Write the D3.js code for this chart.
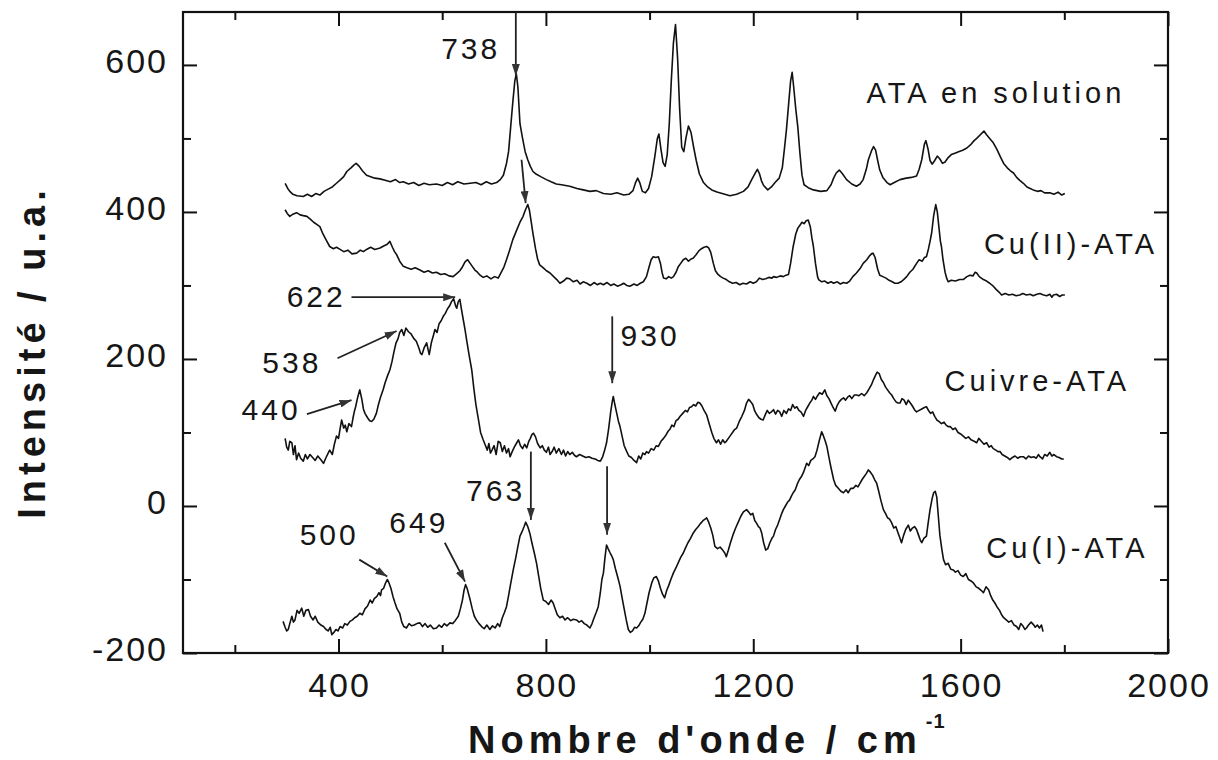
<!DOCTYPE html>
<html>
<head>
<meta charset="utf-8">
<script src="https://cdn.jsdelivr.net/npm/d3@7"></script>
<style>
  body { margin: 0; background: #fff; }
  text { font-family: "Liberation Sans", Arial, sans-serif; fill: #161616; }
</style>
</head>
<body>
<div id="chart"></div>
<script>
// Raman spectra: [wavenumber, intensity]
var ataSolution = [[297,439],[302,432],[306,428],[312,424],[320,422],[332,421],[340,424],[348,421],[356,425],[364,423],[372,428],[380,431],[388,434],[396,439],[404,444],[410,448],[416,455],[424,460],[430,464],[434,466],[440,462],[446,456],[454,450],[462,448],[470,446],[480,445],[490,443],[500,441],[510,444],[518,440],[525,441],[535,438],[545,440],[555,436],[565,439],[575,437],[589,438],[600,436],[610,440],[620,437],[630,441],[642,438],[654,439],[665,440],[675,437],[685,441],[695,438],[705,440],[712,444],[718,450],[724,466],[728,482],[732,515],[736,548],[740,578],[743,588],[746,570],[750,520],[755,500],[760,482],[765,471],[770,462],[775,455],[780,452],[790,448],[801,444],[810,441],[820,438],[830,437],[846,435],[860,432],[872,430],[885,428],[897,429],[911,425],[925,424],[937,426],[950,423],[960,424],[968,429],[973,440],[977,446],[981,440],[986,428],[992,426],[998,432],[1004,448],[1010,475],[1015,500],[1018,506],[1022,485],[1026,467],[1030,462],[1034,478],[1038,520],[1042,580],[1046,630],[1050,655],[1054,610],[1058,540],[1062,488],[1066,482],[1070,500],[1075,517],[1080,508],[1085,488],[1090,470],[1096,452],[1104,440],[1112,434],[1120,430],[1130,427],[1140,425],[1155,422],[1168,424],[1181,428],[1190,434],[1197,444],[1204,453],[1208,458],[1212,452],[1216,442],[1220,436],[1228,430],[1235,434],[1242,440],[1250,446],[1256,460],[1260,485],[1264,512],[1268,545],[1272,578],[1275,590],[1278,570],[1282,540],[1286,515],[1290,480],[1294,450],[1298,437],[1306,433],[1316,430],[1330,428],[1342,429],[1350,437],[1355,446],[1360,453],[1366,457],[1372,452],[1380,444],[1390,438],[1399,435],[1406,438],[1412,444],[1418,458],[1422,471],[1428,483],[1432,489],[1436,484],[1440,470],[1444,457],[1450,447],[1458,440],[1464,437],[1472,440],[1483,444],[1495,446],[1505,447],[1515,449],[1520,458],[1525,471],[1530,492],[1533,497],[1537,486],[1541,470],[1545,465],[1550,470],[1555,476],[1560,472],[1565,466],[1570,468],[1576,474],[1582,478],[1589,480],[1596,482],[1604,484],[1612,487],[1620,492],[1626,497],[1631,500],[1638,505],[1645,510],[1650,505],[1656,500],[1663,494],[1670,485],[1676,476],[1683,466],[1690,460],[1696,456],[1702,453],[1708,447],[1714,443],[1721,439],[1728,434],[1734,432],[1740,430],[1748,428],[1755,429],[1762,426],[1772,426],[1780,424],[1788,427],[1795,423],[1801,425]];

var cu2Ata = [[297,403],[301,398],[306,394],[312,397],[319,399],[326,396],[332,395],[339,394],[346,390],[352,386],[358,383],[364,380],[370,370],[376,362],[383,353],[390,350],[396,352],[403,349],[410,346],[418,348],[426,343],[435,344],[442,348],[448,346],[454,349],[462,352],[470,349],[480,351],[488,354],[494,356],[499,360],[504,352],[508,346],[512,342],[518,333],[525,326],[532,324],[540,322],[548,324],[557,321],[565,318],[573,320],[581,317],[589,318],[597,315],[605,316],[613,313],[621,312],[628,316],[634,320],[638,324],[644,332],[649,335],[654,330],[658,326],[663,321],[668,318],[673,314],[679,311],[686,313],[694,309],[701,312],[708,310],[714,318],[719,325],[724,335],[730,348],[736,362],[744,376],[750,386],[756,394],[760,402],[765,410],[768,403],[772,385],[775,371],[780,350],[784,336],[788,328],[795,324],[801,320],[808,317],[815,312],[821,308],[827,303],[834,306],[840,310],[846,309],[853,305],[860,307],[866,302],[872,305],[879,303],[886,300],[893,304],[899,301],[905,303],[911,301],[918,304],[925,300],[931,302],[938,299],[945,301],[950,303],[956,300],[962,299],[970,302],[976,300],[982,303],[988,305],[994,312],[999,325],[1003,335],[1007,339],[1012,338],[1017,339],[1021,330],[1024,318],[1027,310],[1032,309],[1037,312],[1042,310],[1046,312],[1051,318],[1055,325],[1060,330],[1065,335],[1070,337],[1075,333],[1080,336],[1084,337],[1090,342],[1095,347],[1100,350],[1105,352],[1110,353],[1114,351],[1118,345],[1123,330],[1127,320],[1132,315],[1137,312],[1142,310],[1148,308],[1154,305],[1160,303],[1167,304],[1174,301],[1180,303],[1187,302],[1194,305],[1200,303],[1206,305],[1212,310],[1218,308],[1224,309],[1230,311],[1236,310],[1239,312],[1245,311],[1252,313],[1258,312],[1263,314],[1268,315],[1272,330],[1277,353],[1282,370],[1286,378],[1290,382],[1294,386],[1298,384],[1302,388],[1306,389],[1310,380],[1313,365],[1316,353],[1320,330],[1324,312],[1326,308],[1332,305],[1338,306],[1344,303],[1350,305],[1355,303],[1362,305],[1368,302],[1374,304],[1380,303],[1386,306],[1392,312],[1399,317],[1406,323],[1412,330],[1419,335],[1424,340],[1428,343],[1431,344],[1435,338],[1440,322],[1444,314],[1450,312],[1456,310],[1462,307],[1468,305],[1473,303],[1479,303],[1485,305],[1490,308],[1496,312],[1502,318],[1508,322],[1515,330],[1520,335],[1526,333],[1530,338],[1534,339],[1538,350],[1541,360],[1544,371],[1548,395],[1552,410],[1555,400],[1558,380],[1561,360],[1563,353],[1566,335],[1570,318],[1573,310],[1576,305],[1582,307],[1590,306],[1598,308],[1605,308],[1612,312],[1618,314],[1624,313],[1628,318],[1631,317],[1636,312],[1640,310],[1644,308],[1650,306],[1656,303],[1663,299],[1668,295],[1674,291],[1679,287],[1686,289],[1693,287],[1700,288],[1707,286],[1714,287],[1720,289],[1727,287],[1734,288],[1740,286],[1747,288],[1753,289],[1760,287],[1766,286],[1772,288],[1776,284],[1779,287],[1785,288],[1791,285],[1796,287],[1801,287]];

var cuivreAta = [[297,92],[300,80],[303,76],[306,88],[310,86],[313,70],[316,82],[319,63],[323,72],[327,65],[332,61],[336,70],[340,64],[345,70],[350,66],[355,62],[360,68],[366,63],[371,58],[376,66],[380,72],[383,76],[388,70],[392,84],[396,95],[400,92],[403,105],[406,117],[410,106],[413,110],[416,101],[420,112],[425,108],[428,120],[431,130],[433,135],[437,148],[441,158],[445,145],[448,132],[451,126],[456,120],[460,116],[464,115],[468,118],[473,126],[477,138],[481,148],[486,158],[490,168],[495,178],[499,185],[503,196],[507,210],[511,222],[515,228],[518,236],[522,240],[526,232],[530,242],[535,237],[540,234],[545,228],[550,224],[555,215],[558,208],[561,206],[565,215],[570,222],[573,212],[575,206],[579,222],[583,232],[586,240],[590,236],[594,248],[598,252],[602,258],[606,262],[610,268],[614,272],[618,278],[622,282],[626,272],[628,269],[631,278],[634,281],[637,268],[641,252],[644,240],[648,222],[652,205],[657,185],[661,160],[665,138],[670,117],[674,100],[679,90],[683,83],[687,76],[690,85],[693,72],[696,76],[700,82],[704,70],[708,88],[712,86],[716,74],[720,82],[724,72],[728,78],[731,67],[735,74],[739,80],[743,85],[747,90],[751,82],[755,78],[759,84],[763,79],[767,88],[770,92],[773,97],[776,99],[780,94],[784,85],[789,79],[793,82],[797,76],[801,73],[805,80],[808,70],[812,74],[816,80],[820,72],[825,78],[830,70],[834,76],[838,68],[842,74],[846,70],[851,73],[855,69],[859,67],[865,70],[871,68],[877,66],[883,67],[889,65],[895,64],[900,62],[905,61],[909,66],[913,75],[917,86],[921,105],[925,128],[928,142],[930,149],[933,138],[937,125],[940,115],[943,108],[947,95],[951,82],[956,74],[960,68],[965,66],[970,62],[975,59],[979,68],[983,64],[987,72],[991,70],[994,74],[998,72],[1003,78],[1008,76],[1013,82],[1017,81],[1022,88],[1027,92],[1032,97],[1036,102],[1039,104],[1043,110],[1047,108],[1051,116],[1055,118],[1059,122],[1064,126],[1069,130],[1073,128],[1077,134],[1081,135],[1085,138],[1089,136],[1093,141],[1097,140],[1101,136],[1105,130],[1110,124],[1115,112],[1120,100],[1124,92],[1129,86],[1133,90],[1137,84],[1141,90],[1145,86],[1148,88],[1152,92],[1156,96],[1160,100],[1164,104],[1168,106],[1173,115],[1178,122],[1183,130],[1187,140],[1191,145],[1195,142],[1199,138],[1203,129],[1207,124],[1211,120],[1215,118],[1219,117],[1223,124],[1227,130],[1231,126],[1235,128],[1239,131],[1243,125],[1247,130],[1251,128],[1255,122],[1259,130],[1264,126],[1268,132],[1272,130],[1276,138],[1280,133],[1284,135],[1288,130],[1292,128],[1297,122],[1301,130],[1305,135],[1309,140],[1313,144],[1316,149],[1320,145],[1324,150],[1328,154],[1333,152],[1338,158],[1342,150],[1346,146],[1350,140],[1354,134],[1358,129],[1362,137],[1366,142],[1370,145],[1374,147],[1378,144],[1382,148],[1386,150],[1390,146],[1395,151],[1399,151],[1404,150],[1409,153],[1414,150],[1419,154],[1424,160],[1428,165],[1432,172],[1436,178],[1439,182],[1443,180],[1447,172],[1451,168],[1455,162],[1459,158],[1463,154],[1467,151],[1471,146],[1475,142],[1479,140],[1483,140],[1487,146],[1491,144],[1495,138],[1499,144],[1503,140],[1507,136],[1511,131],[1515,128],[1520,130],[1525,132],[1530,134],[1534,135],[1538,130],[1542,126],[1546,128],[1550,122],[1554,117],[1558,115],[1563,112],[1568,114],[1572,110],[1576,108],[1580,108],[1585,104],[1590,106],[1595,100],[1600,98],[1605,95],[1610,92],[1615,94],[1620,90],[1626,88],[1631,86],[1635,92],[1640,88],[1645,84],[1650,86],[1655,80],[1659,82],[1663,78],[1668,76],[1672,74],[1676,74],[1680,70],[1685,68],[1690,66],[1695,63],[1700,66],[1705,68],[1710,65],[1715,67],[1721,67],[1726,64],[1731,68],[1736,66],[1741,67],[1746,65],[1750,70],[1753,67],[1758,64],[1762,70],[1767,68],[1772,73],[1776,68],[1780,70],[1785,67],[1790,66],[1795,64],[1799,64]];

var cu1Ata = [[293,-157],[297,-165],[300,-170],[303,-168],[306,-160],[310,-150],[313,-158],[316,-155],[320,-142],[324,-146],[329,-139],[333,-150],[337,-142],[342,-141],[346,-150],[351,-155],[355,-150],[360,-158],[366,-162],[371,-164],[376,-168],[380,-170],[384,-165],[387,-175],[391,-172],[395,-168],[399,-170],[403,-164],[408,-166],[412,-160],[417,-162],[422,-157],[427,-155],[431,-152],[436,-150],[441,-146],[446,-148],[451,-140],[456,-136],[461,-128],[465,-132],[469,-126],[474,-123],[478,-118],[481,-122],[483,-114],[487,-112],[490,-106],[494,-100],[497,-104],[501,-112],[505,-123],[509,-132],[513,-140],[518,-146],[522,-158],[526,-164],[531,-166],[536,-160],[541,-163],[546,-162],[551,-160],[557,-159],[562,-164],[567,-160],[572,-165],[577,-162],[583,-167],[589,-166],[594,-162],[599,-165],[604,-160],[609,-163],[615,-159],[620,-160],[625,-156],[631,-150],[635,-140],[639,-128],[642,-115],[645,-107],[648,-112],[651,-120],[654,-128],[658,-140],[662,-150],[666,-155],[671,-160],[676,-164],[681,-167],[686,-162],[692,-168],[697,-163],[702,-166],[707,-160],[711,-164],[716,-152],[720,-145],[724,-137],[728,-122],[732,-106],[737,-87],[742,-70],[746,-55],[750,-41],[754,-35],[758,-28],[761,-22],[765,-28],[769,-37],[773,-50],[778,-65],[782,-78],[786,-95],[790,-112],[795,-128],[800,-130],[805,-134],[810,-128],[814,-132],[818,-140],[822,-148],[827,-152],[832,-150],[837,-155],[842,-152],[848,-156],[853,-154],[859,-155],[864,-158],[869,-156],[874,-160],[879,-162],[885,-166],[889,-160],[893,-152],[897,-145],[901,-137],[905,-118],[908,-100],[911,-91],[914,-70],[917,-53],[920,-58],[924,-64],[927,-68],[930,-73],[934,-85],[939,-98],[943,-109],[947,-125],[951,-140],[955,-155],[959,-168],[963,-172],[967,-170],[971,-165],[975,-166],[979,-163],[983,-158],[987,-154],[991,-146],[995,-132],[999,-118],[1004,-105],[1008,-98],[1013,-96],[1017,-102],[1021,-112],[1025,-120],[1029,-125],[1033,-115],[1037,-108],[1041,-100],[1046,-91],[1051,-84],[1056,-76],[1060,-70],[1065,-64],[1070,-56],[1074,-50],[1079,-44],[1084,-37],[1089,-32],[1094,-28],[1098,-24],[1103,-20],[1107,-18],[1110,-16],[1114,-22],[1118,-30],[1122,-40],[1126,-55],[1131,-58],[1136,-56],[1141,-60],[1145,-64],[1148,-69],[1152,-60],[1156,-50],[1161,-39],[1166,-30],[1171,-22],[1176,-14],[1181,-8],[1187,-5],[1191,-8],[1195,-12],[1199,-10],[1203,-20],[1206,-23],[1210,-28],[1213,-30],[1216,-36],[1220,-50],[1224,-60],[1228,-58],[1232,-50],[1236,-44],[1239,-41],[1243,-32],[1247,-26],[1251,-18],[1255,-10],[1258,-5],[1262,0],[1266,5],[1270,8],[1274,14],[1277,18],[1281,22],[1285,30],[1289,36],[1293,40],[1297,46],[1300,52],[1303,58],[1307,55],[1311,62],[1315,64],[1319,67],[1323,76],[1327,88],[1330,96],[1332,101],[1335,96],[1339,88],[1342,81],[1346,66],[1350,52],[1355,36],[1359,28],[1364,24],[1369,20],[1374,18],[1379,22],[1383,18],[1388,24],[1393,24],[1398,28],[1402,26],[1406,31],[1410,36],[1414,40],[1418,44],[1422,49],[1426,46],[1430,42],[1434,36],[1438,31],[1442,20],[1446,8],[1451,-5],[1455,-10],[1459,-16],[1463,-18],[1467,-23],[1471,-30],[1475,-28],[1479,-36],[1483,-44],[1486,-50],[1490,-40],[1494,-32],[1499,-26],[1503,-34],[1507,-30],[1511,-28],[1515,-32],[1519,-40],[1522,-46],[1525,-50],[1529,-44],[1534,-41],[1537,-25],[1541,-5],[1545,10],[1548,18],[1551,20],[1554,12],[1557,-14],[1560,-40],[1564,-60],[1567,-73],[1571,-80],[1576,-78],[1581,-86],[1586,-87],[1590,-90],[1595,-88],[1600,-94],[1605,-96],[1610,-92],[1615,-100],[1620,-102],[1625,-105],[1630,-110],[1635,-112],[1640,-115],[1644,-118],[1649,-110],[1654,-114],[1658,-122],[1662,-128],[1666,-132],[1670,-137],[1675,-142],[1679,-148],[1683,-152],[1688,-155],[1693,-158],[1698,-156],[1703,-162],[1708,-164],[1712,-168],[1716,-160],[1720,-163],[1724,-168],[1727,-166],[1731,-162],[1736,-158],[1740,-161],[1744,-165],[1748,-162],[1752,-166],[1756,-162],[1759,-171]];

var spectra = [ataSolution, cu2Ata, cuivreAta, cu1Ata];

// series names placed next to each curve [text, wavenumber, intensity]
var seriesLabels = [["ATA en solution", 1668, 563], ["Cu(II)-ATA", 1813, 357], ["Cuivre-ATA", 1748, 170], ["Cu(I)-ATA", 1806, -57]];

// peak annotations: [text, textX, textY] and arrows [x1, y1, x2, y2]
var peakLabels = [["738", 655, 623], ["622", 357, 285], ["538", 310, 196], ["440", 270, 131], ["930", 1001, 233], ["763", 703, 21], ["500", 382, -38], ["649", 555, -22]];
var peakArrows = [[742, 672, 742, 585], [753, 471, 761, 412], [425, 284, 625, 284], [398, 201, 512, 238], [339, 125, 425, 144], [928, 258, 928, 167], [771, 74, 771, -19], [918, 54, 918, -39], [440, -73, 494, -96], [605, -50, 644, -103]];

var xMajor = [400, 800, 1200, 1600, 2000];
var xMinor = [200, 600, 1000, 1400, 1800];
var yMajor = [-200, 0, 200, 400, 600];
var yMinor = [-100, 100, 300, 500];

var svgWidth = 1218, svgHeight = 760;
var plotLeft = 183, plotRight = 1168, plotTop = 12, plotBottom = 653;

var svg = d3.select("#chart")
    .append("svg")
    .attr("width", svgWidth)
    .attr("height", svgHeight);

svg.append("rect").attr("width", svgWidth).attr("height", svgHeight).attr("fill", "#fff");

var x = d3.scaleLinear().domain([100, 2000]).range([plotLeft, plotRight]);
var y = d3.scaleLinear().domain([-200, 672]).range([plotBottom, plotTop]);

// arrow head
svg.append("defs").append("marker")
    .attr("id", "head")
    .attr("markerUnits", "userSpaceOnUse")
    .attr("viewBox", "0 0 12 8")
    .attr("refX", 12).attr("refY", 4)
    .attr("markerWidth", 12).attr("markerHeight", 8)
    .attr("orient", "auto")
    .append("path")
    .attr("d", "M0,0 L12,4 L0,8 Z")
    .attr("fill", "#333");

// ticks, all pointing inward
function ticks(axis, vals, size, tr) {
    var g = svg.append("g").attr("transform", tr)
        .call(axis.tickValues(vals).tickSize(size).tickFormat(""));
    g.select(".domain").remove();
    g.selectAll("line").attr("stroke", "#111").attr("stroke-width", 2);
}
ticks(d3.axisBottom(x), xMajor, -14, "translate(0," + plotBottom + ")");
ticks(d3.axisBottom(x), xMinor, -8, "translate(0," + plotBottom + ")");
ticks(d3.axisTop(x), xMajor, -14, "translate(0," + plotTop + ")");
ticks(d3.axisTop(x), xMinor, -8, "translate(0," + plotTop + ")");
ticks(d3.axisLeft(y), yMajor, -14, "translate(" + plotLeft + ",0)");
ticks(d3.axisLeft(y), yMinor, -8, "translate(" + plotLeft + ",0)");
ticks(d3.axisRight(y), yMajor, -14, "translate(" + plotRight + ",0)");
ticks(d3.axisRight(y), yMinor, -8, "translate(" + plotRight + ",0)");

// frame
svg.append("rect")
    .attr("x", plotLeft).attr("y", plotTop)
    .attr("width", plotRight - plotLeft).attr("height", plotBottom - plotTop)
    .attr("fill", "none").attr("stroke", "#111").attr("stroke-width", 2.2);

// tick labels
svg.selectAll(".xlab").data(xMajor).enter().append("text")
    .attr("x", function(d) { return x(d) + 1; })
    .attr("y", 697)
    .attr("text-anchor", "middle")
    .style("font-size", "34px").style("letter-spacing", "2px")
    .text(function(d) { return d; });

svg.selectAll(".ylab").data(yMajor).enter().append("text")
    .attr("x", 168)
    .attr("y", function(d) { return y(d) + 8; })
    .attr("text-anchor", "end")
    .style("font-size", "34px").style("letter-spacing", "2px")
    .text(function(d) { return d; });

// spectra
var line = d3.line().x(function(d) { return x(d[0]); }).y(function(d) { return y(d[1]); });
svg.selectAll(".spec").data(spectra).enter().append("path")
    .attr("d", line)
    .attr("fill", "none")
    .attr("stroke", "#111")
    .attr("stroke-width", 1.6)
    .attr("stroke-linejoin", "round");

// arrows
svg.selectAll(".arrow").data(peakArrows).enter().append("line")
    .attr("x1", function(d) { return x(d[0]); })
    .attr("y1", function(d) { return y(d[1]); })
    .attr("x2", function(d) { return x(d[2]); })
    .attr("y2", function(d) { return y(d[3]); })
    .attr("stroke", "#222").attr("stroke-width", 1.8)
    .attr("marker-end", "url(#head)");

svg.selectAll(".peak").data(peakLabels).enter().append("text")
    .attr("x", function(d) { return x(d[1]); })
    .attr("y", function(d) { return y(d[2]); })
    .attr("dy", "0.36em")
    .attr("text-anchor", "middle")
    .style("font-size", "30px").style("letter-spacing", "3px")
    .text(function(d) { return d[0]; });

svg.selectAll(".series").data(seriesLabels).enter().append("text")
    .attr("x", function(d) { return x(d[1]); })
    .attr("y", function(d) { return y(d[2]); })
    .attr("dy", "0.36em")
    .attr("text-anchor", "middle")
    .style("font-size", "29px").style("letter-spacing", "4px")
    .text(function(d) { return d[0]; });

// axis titles
var xt = svg.append("text")
    .attr("x", 468).attr("y", 753)
    .style("font-size", "38px").style("font-weight", "bold").style("letter-spacing", "5px")
    .text("Nombre d'onde / cm");
xt.append("tspan")
    .attr("dx", 4).attr("dy", -25)
    .style("font-size", "20px").style("letter-spacing", "1px")
    .text("-1");

svg.append("text")
    .attr("transform", "translate(45,352) rotate(-90)")
    .attr("text-anchor", "middle")
    .style("font-size", "38px").style("font-weight", "bold").style("letter-spacing", "5px")
    .text("Intensité / u.a.");
</script>
</body>
</html>
